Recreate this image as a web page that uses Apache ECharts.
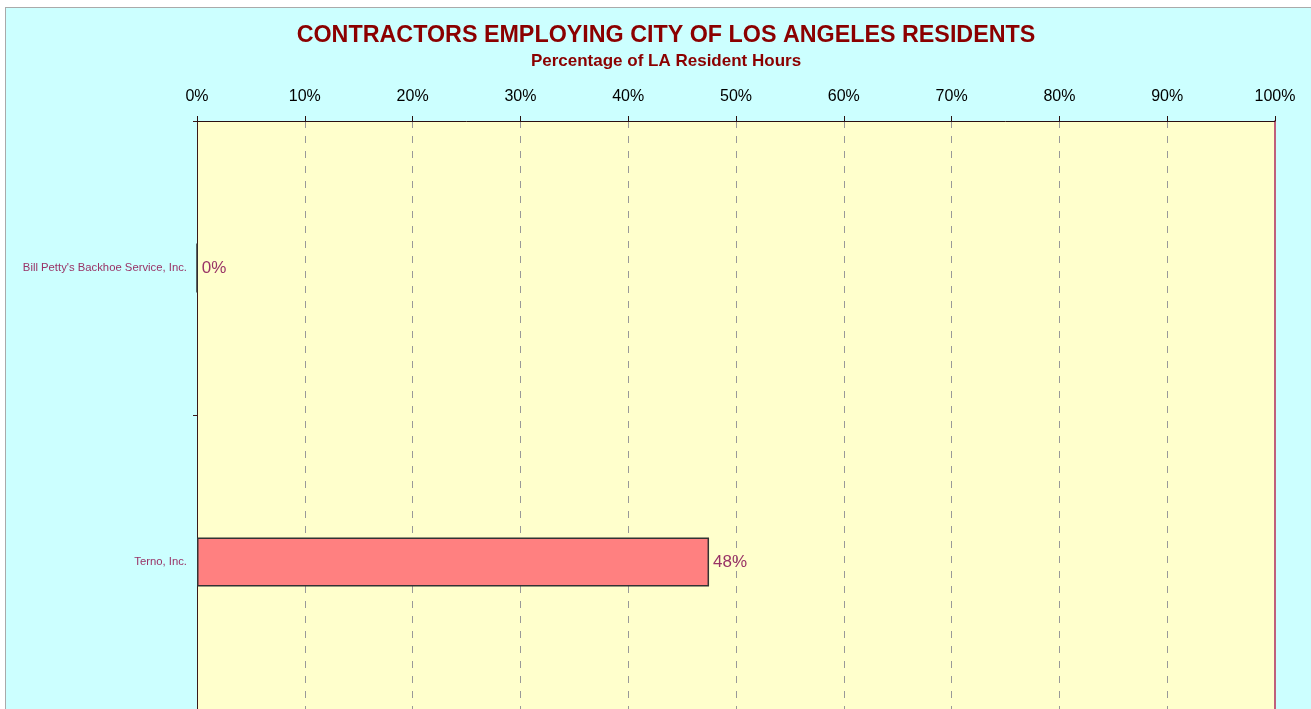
<!DOCTYPE html>
<html>
<head>
<meta charset="utf-8">
<script src="https://cdn.jsdelivr.net/npm/echarts@6/dist/echarts.min.js"></script>
<style>
  html, body { margin: 0; padding: 0; background: #fff; overflow: hidden; }
  #chart {
    position: absolute;
    left: 5px;
    top: 7px;
    width: 1320px;
    height: 760px;
    border: 1px solid #aaa;
    background: #ccffff;
  }
</style>
</head>
<body>
<div id="chart"></div>
<script>
// contractors, top to bottom
const contractors = ["Bill Petty's Backhoe Service, Inc.", 'Terno, Inc.']
// percentage of LA resident hours
const residentPct = [0, 47.5]

const chart = echarts.init(document.getElementById('chart'))
const font = '"Liberation Sans", Arial, Helvetica, sans-serif'

const option = {
  animation: false,
  textStyle: { fontFamily: font },
  title: [
    {
      text: 'CONTRACTORS EMPLOYING CITY OF LOS ANGELES RESIDENTS',
      left: 'center',
      top: 11,
      textStyle: { fontFamily: font, fontSize: 23.3, fontWeight: 'bold', color: '#8b0000' },
    },
    {
      text: 'Percentage of LA Resident Hours',
      left: 'center',
      top: 40,
      textStyle: { fontFamily: font, fontSize: 17, fontWeight: 'bold', color: '#8b0000' },
    },
  ],
  grid: {
    left: 191,
    top: 113,
    width: 1078,
    height: 588,
    show: true,
    backgroundColor: '#ffffcc',
    borderWidth: 0,
  },
  xAxis: {
    type: 'value',
    position: 'top',
    min: 0,
    max: 100,
    interval: 10,
    axisLine: { show: true, lineStyle: { color: '#2a1010', width: 1 } },
    axisTick: { show: true, length: 5, lineStyle: { color: '#2a1010' } },
    axisLabel: { formatter: '{value}%', fontSize: 16, color: '#000', margin: 16, fontFamily: font },
    splitLine: { show: true, lineStyle: { color: '#999', type: [7, 8], width: 1 } },
  },
  yAxis: [
    {
      type: 'category',
      data: contractors,
      inverse: true,
      axisLine: { show: true, lineStyle: { color: '#3a1a1a', width: 1 } },
      axisTick: { show: true, length: 4, lineStyle: { color: '#3a1a1a' } },
      axisLabel: { fontSize: 11.3, color: '#993366', margin: 10, fontFamily: font },
    },
    {
      type: 'category',
      data: contractors,
      inverse: true,
      position: 'right',
      axisLine: { show: true, lineStyle: { color: '#c0607a', width: 2 } },
      axisTick: { show: false },
      axisLabel: { show: false },
    },
  ],
  series: [
    {
      type: 'bar',
      data: residentPct,
      barWidth: 49,
      itemStyle: { color: '#ff8080', borderColor: '#333', borderWidth: 1.5 },
      label: {
        show: true,
        position: 'right',
        distance: 4,
        fontSize: 17,
        color: '#993366',
        fontFamily: font,
        formatter: (p) => Math.round(p.value) + '%',
      },
    },
  ],
}

chart.setOption(option)
</script>
</body>
</html>
